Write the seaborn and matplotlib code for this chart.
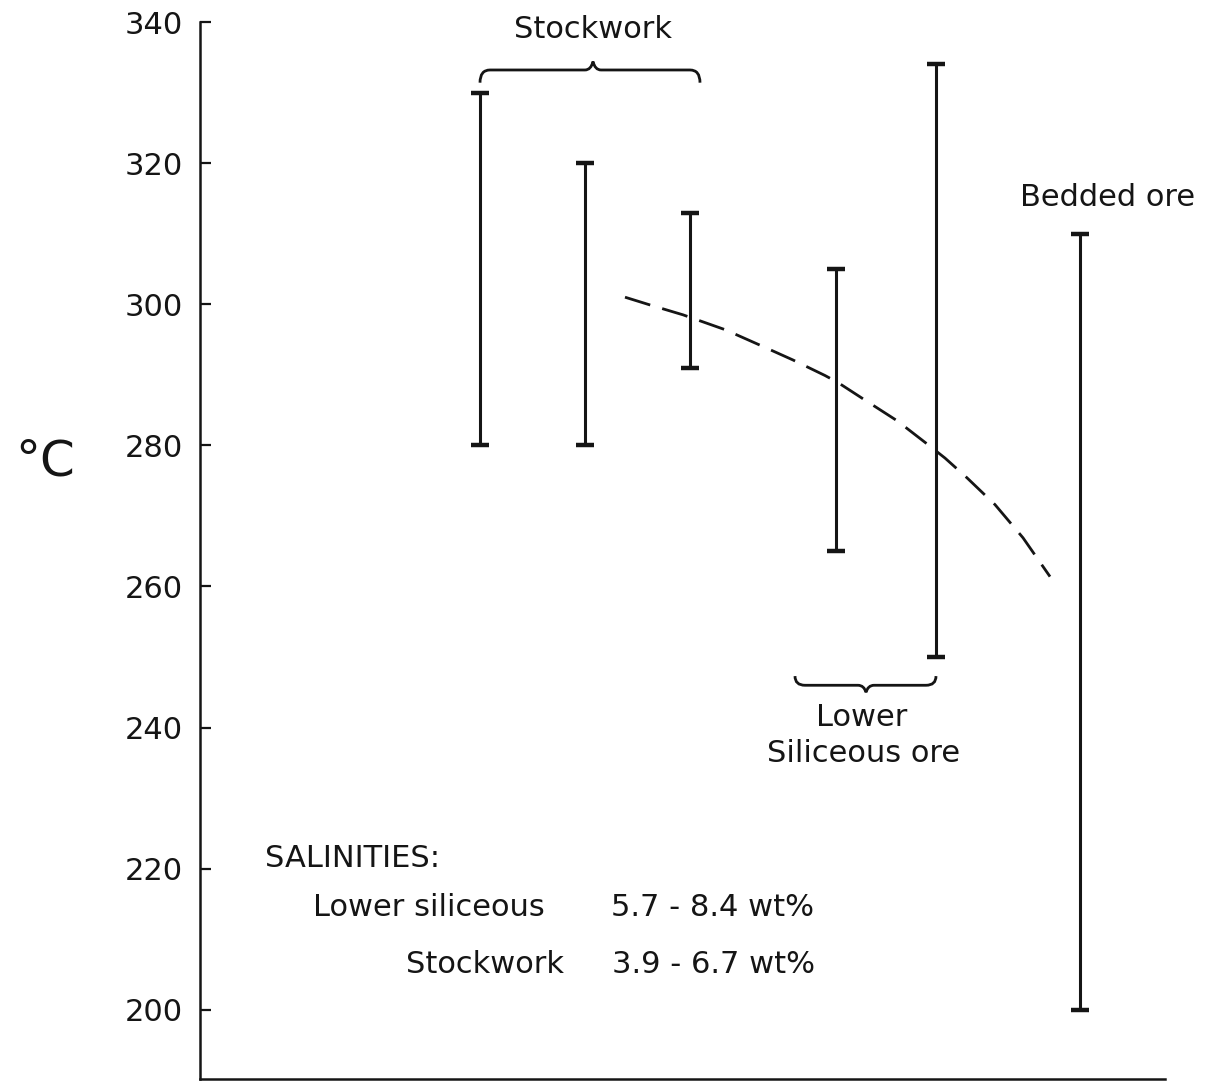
import numpy as np
import pandas as pd
import matplotlib
matplotlib.use("Agg")
import matplotlib.pyplot as plt
from matplotlib.path import Path
from matplotlib.patches import PathPatch
import seaborn as sns

# Homogenization temperature ranges (°C) for each sample group
groups = ["Stockwork A", "Stockwork B", "Stockwork C",
          "Lower siliceous A", "Lower siliceous B", "Bedded ore"]
t_min = [280, 280, 291, 265, 250, 200]
t_max = [330, 320, 313, 305, 334, 310]

# Trend of temperature along the ore body (dashed curve)
trend_x = [625, 650, 683, 697, 725, 760, 793, 825, 838, 863, 897, 928,
           945, 967, 995, 1023, 1050]
trend_t = [301.0, 299.9, 298.5, 297.8, 296.4, 294.2, 292.1, 289.9, 288.9,
           286.6, 283.5, 280.1, 278.2, 275.4, 271.6, 266.9, 261.4]

y_ticks = [200, 220, 240, 260, 280, 300, 320, 340]

# Horizontal placement of the range bars along the section
bar_x = [480, 585, 690, 836, 936, 1080]

sns.set_theme(style="white")
plt.rcParams["font.family"] = ["DejaVu Sans"]
ink = "#151515"

fig = plt.figure(figsize=(12.07, 10.85), dpi=100)
ax = fig.add_axes([200 / 1207, 6 / 1085, 965 / 1207, 1057 / 1085])

ranges = pd.DataFrame({"group": groups, "x": bar_x, "lo": t_min, "hi": t_max})
ax.vlines(ranges["x"], ranges["lo"], ranges["hi"], color=ink, lw=2.2)
cap = 9
ax.hlines(ranges["lo"], ranges["x"] - cap, ranges["x"] + cap, color=ink, lw=3.2)
ax.hlines(ranges["hi"], ranges["x"] - cap, ranges["x"] + cap, color=ink, lw=3.2)

trend = pd.DataFrame({"x": trend_x, "t": trend_t})
sns.lineplot(data=trend, x="x", y="t", ax=ax, color=ink, lw=2.0,
             dashes=False, sort=True)
ax.lines[-1].set_dashes((9.5, 4.5))

ax.set_xlim(200, 1165)
ax.set_ylim(190.2, 340)
ax.set_yticks(y_ticks)
ax.set_xticks([])
ax.set_xlabel("")
ax.set_ylabel("")
ax.tick_params(axis="y", direction="in", length=8, width=1.6, colors=ink,
               labelsize=22, pad=12, left=True)
for s in ["top", "right"]:
    ax.spines[s].set_visible(False)
for s in ["left", "bottom"]:
    ax.spines[s].set_color(ink)
    ax.spines[s].set_linewidth(1.8)


def brace(x0, x1, y_flat, y_end, y_tip, xm):
    """Curly brace from x0 to x1; ends bend to y_end, the middle points to y_tip."""
    dx = 10
    verts = [(x0, y_end), (x0, y_flat), (x0 + dx, y_flat),
             (xm - 8, y_flat), (xm - 2, y_flat), (xm, y_tip),
             (xm + 2, y_flat), (xm + 8, y_flat),
             (x1 - dx, y_flat), (x1, y_flat), (x1, y_end)]
    codes = [Path.MOVETO, Path.CURVE3, Path.CURVE3,
             Path.LINETO, Path.CURVE3, Path.CURVE3,
             Path.CURVE3, Path.CURVE3,
             Path.LINETO, Path.CURVE3, Path.CURVE3]
    ax.add_patch(PathPatch(Path(verts, codes), fill=False, ec=ink, lw=2.0,
                           clip_on=False))


brace(480, 700, 333.2, 331.4, 334.4, 593)
brace(795, 936, 246.0, 247.3, 245.0, 866)

txt = dict(color=ink, fontsize=22)
ax.text(593, 338.9, "Stockwork", ha="center", va="center", **txt)
ax.text(1108, 315.1, "Bedded ore", ha="center", va="center", **txt)
ax.text(862, 241.4, "Lower", ha="center", va="center", **txt)
ax.text(864, 236.3, "Siliceous ore", ha="center", va="center", **txt)

ax.text(265, 221.5, "SALINITIES:", ha="left", va="center", **txt)
ax.text(313, 214.5, "Lower siliceous", ha="left", va="center", **txt)
ax.text(611, 214.5, "5.7 - 8.4 wt%", ha="left", va="center", **txt)
ax.text(406, 206.4, "Stockwork", ha="left", va="center", **txt)
ax.text(612, 206.4, "3.9 - 6.7 wt%", ha="left", va="center", **txt)

fig.text(45 / 1207, 1 - 462 / 1085, "°C", ha="center", va="center",
         color=ink, fontsize=36)

fig.savefig("out.png", dpi=100, facecolor="white")
